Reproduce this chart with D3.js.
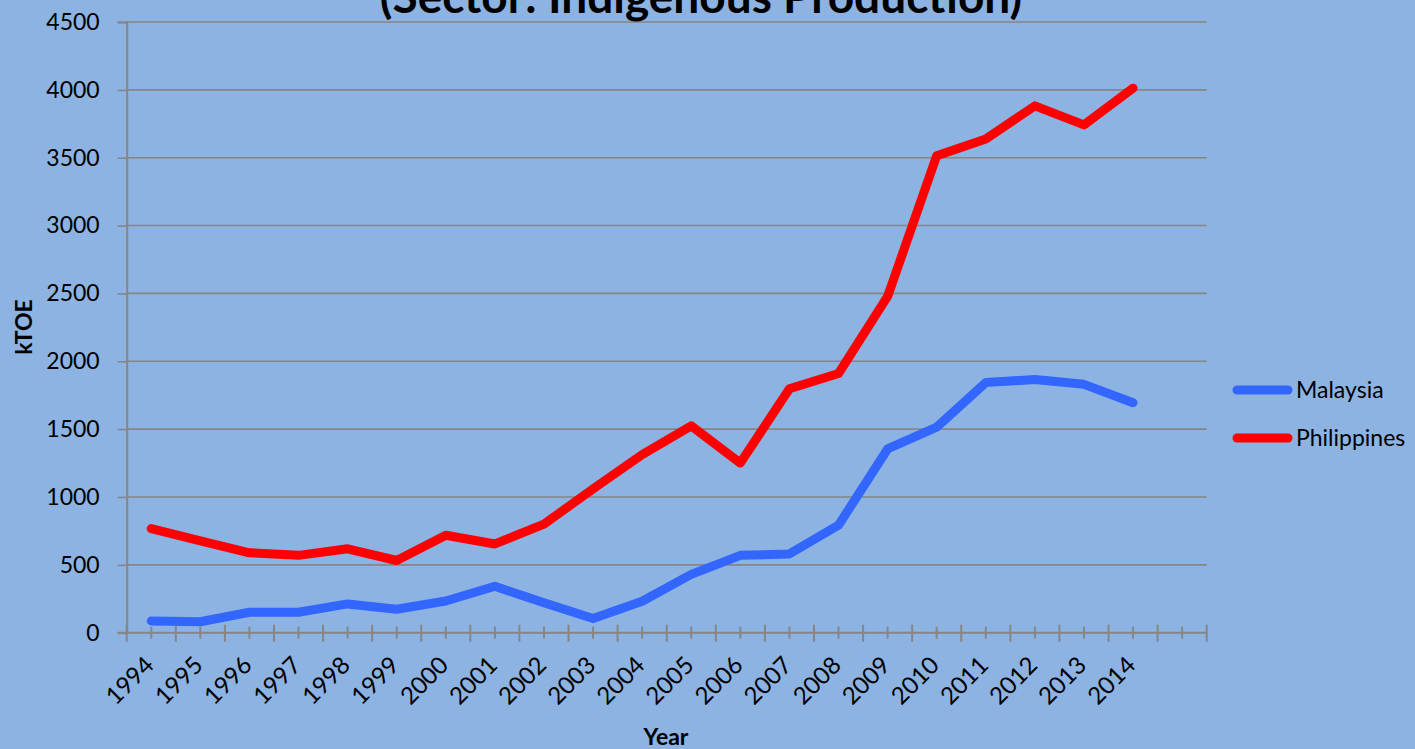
<!DOCTYPE html>
<html>
<head>
<meta charset="utf-8">
<script src="https://cdn.jsdelivr.net/npm/d3@7"></script>
<style>
  body { margin: 0; background: #8db3e2; }
  svg { display: block; font-family: Lato, "Open Sans", sans-serif; }
</style>
</head>
<body>
<svg width="1415" height="749"></svg>
<script>
// data (kTOE)
var years = ["1994","1995","1996","1997","1998","1999","2000","2001","2002","2003","2004",
             "2005","2006","2007","2008","2009","2010","2011","2012","2013","2014"];
var malaysia = [87, 81, 151, 151, 212, 173, 234, 342, 220, 104, 232,
                430, 570, 580, 792, 1354, 1515, 1843, 1866, 1830, 1695];
var philippines = [767, 677, 589, 570, 618, 532, 718, 654, 800, 1060, 1312,
                   1524, 1250, 1798, 1910, 2478, 3514, 3638, 3882, 3742, 4012];
var yTicks = [0, 500, 1000, 1500, 2000, 2500, 3000, 3500, 4000, 4500];
// the category axis has one empty slot after 2014
var slots = years.concat([""]);

var svg = d3.select("svg"),
    plotLeft = 126.7, plotRight = 1206.7, plotTop = 22, plotBottom = 632.7;

var x = d3.scaleBand()
    .domain(slots)
    .range([plotLeft, plotRight]);

var y = d3.scaleLinear()
    .domain([0, 4500])
    .range([plotBottom, plotTop]);

var gridColor = "#868686";

// gridlines
svg.append("g")
  .selectAll("line")
  .data(yTicks.slice(1))
  .enter().append("line")
    .attr("x1", plotLeft)
    .attr("x2", plotRight)
    .attr("y1", function(d) { return y(d); })
    .attr("y2", function(d) { return y(d); })
    .attr("stroke", gridColor)
    .attr("stroke-width", 1.6);

// y axis
var yAxis = svg.append("g")
    .attr("transform", "translate(" + plotLeft + ",0)")
    .call(d3.axisLeft(y).tickValues(yTicks).tickSize(9).tickPadding(18).tickFormat(d3.format("d")));
yAxis.select(".domain").attr("stroke", gridColor).attr("stroke-width", 2);
yAxis.selectAll(".tick line").attr("stroke", gridColor).attr("stroke-width", 1.6);
yAxis.selectAll(".tick text")
    .attr("font-size", 23)
    .attr("font-family", "Lato, sans-serif")
    .attr("fill", "#000");

// x axis line
svg.append("line")
    .attr("x1", plotLeft - 9)
    .attr("x2", plotRight)
    .attr("y1", plotBottom)
    .attr("y2", plotBottom)
    .attr("stroke", gridColor)
    .attr("stroke-width", 2);

// long ticks on slot edges, short ticks at slot centres
var edges = slots.map(function(d) { return x(d); }).concat([x.range()[1]]);
svg.append("g")
  .selectAll("line")
  .data(edges)
  .enter().append("line")
    .attr("x1", function(d) { return d; })
    .attr("x2", function(d) { return d; })
    .attr("y1", plotBottom - 8)
    .attr("y2", plotBottom + 9)
    .attr("stroke", gridColor)
    .attr("stroke-width", 2);

svg.append("g")
  .selectAll("line")
  .data(slots)
  .enter().append("line")
    .attr("x1", function(d) { return x(d) + x.bandwidth() / 2; })
    .attr("x2", function(d) { return x(d) + x.bandwidth() / 2; })
    .attr("y1", plotBottom - 6)
    .attr("y2", plotBottom + 6)
    .attr("stroke", gridColor)
    .attr("stroke-width", 2);

// rotated year labels
svg.append("g")
  .selectAll("text")
  .data(years)
  .enter().append("text")
    .attr("transform", function(d) {
      return "translate(" + (x(d) + x.bandwidth() / 2 + 4) + "," + (plotBottom + 34) + ") rotate(-45)";
    })
    .attr("text-anchor", "end")
    .attr("font-size", 24)
    .attr("fill", "#000")
    .text(function(d) { return d; });

// lines
var line = d3.line()
    .x(function(d, i) { return x(years[i]) + x.bandwidth() / 2; })
    .y(function(d) { return y(d); });

var series = [
  { name: "Malaysia", values: malaysia, color: "#3366ff" },
  { name: "Philippines", values: philippines, color: "#ff0000" }
];

svg.append("g")
  .selectAll("path")
  .data(series)
  .enter().append("path")
    .attr("d", function(d) { return line(d.values); })
    .attr("fill", "none")
    .attr("stroke", function(d) { return d.color; })
    .attr("stroke-width", 9)
    .attr("stroke-linejoin", "round")
    .attr("stroke-linecap", "round");

// legend
var legend = svg.append("g")
  .selectAll("g")
  .data(series)
  .enter().append("g")
    .attr("transform", function(d, i) { return "translate(1237," + (390 + i * 48) + ")"; });

legend.append("line")
    .attr("x1", 0)
    .attr("x2", 51)
    .attr("stroke", function(d) { return d.color; })
    .attr("stroke-width", 9)
    .attr("stroke-linecap", "round");

legend.append("text")
    .attr("x", 59)
    .attr("y", 8)
    .attr("font-size", 23)
    .attr("fill", "#000")
    .text(function(d) { return d.name; });

// titles
svg.append("text")
    .attr("x", 701)
    .attr("y", 13)
    .attr("text-anchor", "middle")
    .attr("font-size", 46)
    .attr("font-weight", "bold")
    .attr("fill", "#000")
    .text("(Sector: Indigenous Production)");

svg.append("text")
    .attr("transform", "translate(32,327) rotate(-90)")
    .attr("text-anchor", "middle")
    .attr("font-size", 23)
    .attr("font-weight", "bold")
    .attr("fill", "#000")
    .text("kTOE");

svg.append("text")
    .attr("x", 666)
    .attr("y", 745)
    .attr("text-anchor", "middle")
    .attr("font-size", 23)
    .attr("font-weight", "bold")
    .attr("fill", "#000")
    .text("Year");
</script>
</body>
</html>
